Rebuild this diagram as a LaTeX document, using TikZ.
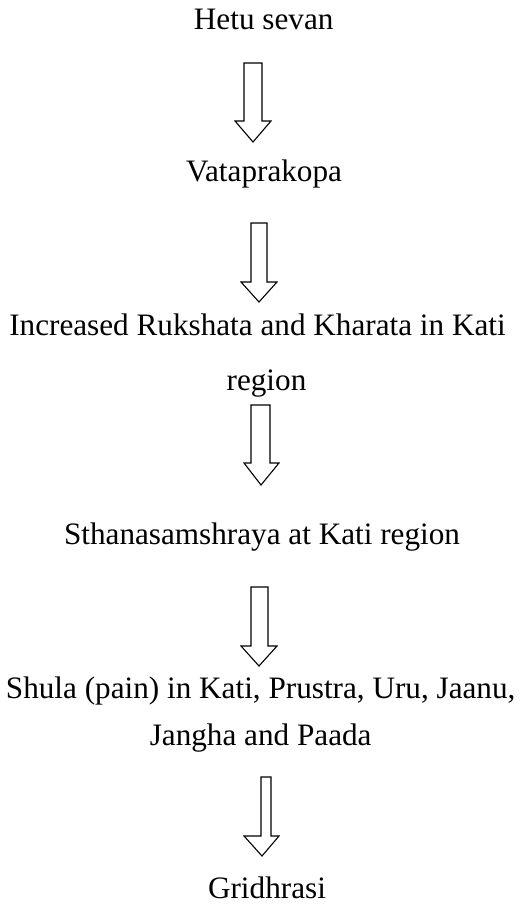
\documentclass[tikz,border=0pt]{standalone}
\usepackage{fontspec}
\setmainfont{Liberation Serif}
\newcommand{\blkarrow}[8]{%
  \draw[blockarrow] (#2,#1) -- (#3,#1) -- (#3,#4) -- (#6,#4) -- (#7,#8) -- (#5,#4) -- (#2,#4) -- cycle;}
\begin{document}
\begin{tikzpicture}[x=1pt,y=-1pt,
  lbl/.style={anchor=base, inner sep=0pt, align=center, font=\fontsize{31.2}{55}\selectfont},
  blockarrow/.style={draw=black, line width=1.1pt, fill=white, line join=miter}]
\useasboundingbox (0,0) rectangle (529,910);
\node[lbl] (hetu) at (263.7,29) {Hetu sevan};
\node[lbl] (vata) at (264,181) {Vataprakopa};
\node[lbl] (ruk) at (257.5,390) {Increased Rukshata and Kharata in Kati\\\hspace*{18pt}region};
\node[lbl] (sthana) at (262,544) {Sthanasamshraya at Kati region};
\node[lbl, font=\fontsize{31.2}{47}\selectfont] (shula) at (260.7,745) {Shula (pain) in Kati, Prustra, Uru, Jaanu,\\Jangha and Paada};
\node[lbl] (gri) at (267,898) {Gridhrasi};
% block arrows: top, shaftL, shaftR, headbase, headL, headR, tipx, tipy
\blkarrow{63}{244}{262}{121}{235}{271}{253}{142}
\blkarrow{223}{251}{267}{282}{241}{277}{259}{302}
\blkarrow{405}{251}{270}{463}{244}{279}{261}{485}
\blkarrow{587}{251}{268}{646}{241}{277}{259}{666}
\blkarrow{777}{261}{271}{836}{244}{279}{262}{856}
\end{tikzpicture}
\end{document}
